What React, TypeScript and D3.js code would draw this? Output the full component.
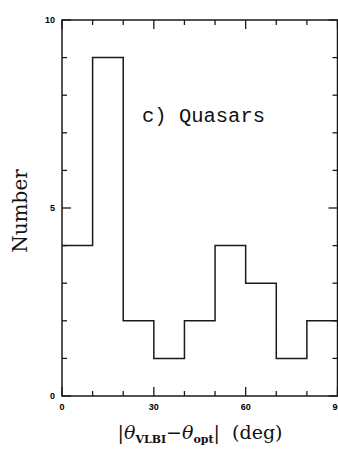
import React from "react";
import * as d3 from "d3";

const binEdges = [0, 10, 20, 30, 40, 50, 60, 70, 80, 90];
const counts = [4, 9, 2, 1, 2, 4, 3, 1, 2];
const xMajor = [0, 30, 60, 90];
const xMinor = [10, 20, 40, 50, 70, 80];
const yMajor = [0, 5, 10];
const yMinor = [1, 2, 3, 4, 6, 7, 8, 9];

const W = 338, H = 449;
const X0 = 62, X1 = 337.5, Y0 = 396, Y1 = 20;

export default function App() {
  const x = d3.scaleLinear().domain([0, 90]).range([X0, X1]);
  const y = d3.scaleLinear().domain([0, 10]).range([Y0, Y1]);
  const pts: [number, number][] = [];
  counts.forEach((c, i) => {
    pts.push([binEdges[i], c]);
    pts.push([binEdges[i + 1], c]);
  });
  const line = d3.line<[number, number]>().x(d => x(d[0])).y(d => y(d[1]));
  const stroke = "#1a1a1a";
  const tickFont = { fontFamily: "Liberation Sans, Arial, sans-serif", fontSize: 9, fontWeight: 700 } as const;
  return (
    <svg width={W} height={H} style={{ position: "absolute", left: 0, top: 0, background: "#fff" }}>
      <rect x={X0} y={Y1} width={X1 - X0} height={Y0 - Y1} fill="none" stroke={stroke} strokeWidth={1.5} />
      <path d={line(pts) || ""} fill="none" stroke={stroke} strokeWidth={1.5} />
      {xMajor.map(v => (
        <g key={"xM" + v}>
          <line x1={x(v)} x2={x(v)} y1={Y0} y2={Y0 - 9} stroke={stroke} strokeWidth={1.3} />
          <line x1={x(v)} x2={x(v)} y1={Y1} y2={Y1 + 9} stroke={stroke} strokeWidth={1.3} />
          <text x={x(v)} y={410} textAnchor="middle" {...tickFont}>{v}</text>
        </g>
      ))}
      {xMinor.map(v => (
        <g key={"xm" + v}>
          <line x1={x(v)} x2={x(v)} y1={Y0} y2={Y0 - 5} stroke={stroke} strokeWidth={1.3} />
          <line x1={x(v)} x2={x(v)} y1={Y1} y2={Y1 + 5} stroke={stroke} strokeWidth={1.3} />
        </g>
      ))}
      {yMajor.map(v => (
        <g key={"yM" + v}>
          <line x1={X0} x2={X0 + 9} y1={y(v)} y2={y(v)} stroke={stroke} strokeWidth={1.3} />
          <line x1={X1} x2={X1 - 9} y1={y(v)} y2={y(v)} stroke={stroke} strokeWidth={1.3} />
          <text x={55} y={y(v) + 3} textAnchor="end" {...tickFont}>{v}</text>
        </g>
      ))}
      {yMinor.map(v => (
        <g key={"ym" + v}>
          <line x1={X0} x2={X0 + 5} y1={y(v)} y2={y(v)} stroke={stroke} strokeWidth={1.3} />
          <line x1={X1} x2={X1 - 5} y1={y(v)} y2={y(v)} stroke={stroke} strokeWidth={1.3} />
        </g>
      ))}
      <text x={142} y={122} fontFamily="Liberation Mono, Courier New, monospace" fontSize={20.5} fill="#111">c) Quasars</text>
      <text transform="translate(27,211) rotate(-90)" textAnchor="middle" fontFamily="DejaVu Serif, serif" fontSize={20} fill="#111">Number</text>
      <text x={200} y={439} textAnchor="middle" fontFamily="DejaVu Serif, serif" fontSize={19} fill="#111">
        |<tspan fontStyle="italic">θ</tspan><tspan fontSize={11} fontWeight={700} dy={4}>VLBI</tspan><tspan dy={-4}>−</tspan><tspan fontStyle="italic">θ</tspan><tspan fontSize={11} fontWeight={700} dy={4}>opt</tspan><tspan dy={-4}>{"|\u00a0\u00a0(deg)"}</tspan>
      </text>
    </svg>
  );
}
